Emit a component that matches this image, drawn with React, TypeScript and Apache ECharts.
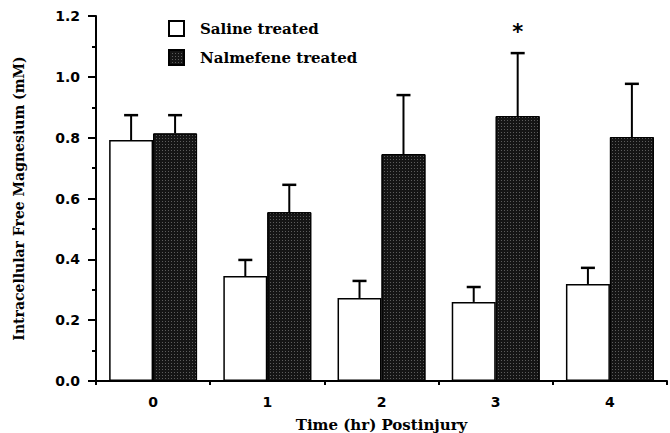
import React, { useEffect, useRef } from "react";
import * as echarts from "echarts";

const categories = ["0", "1", "2", "3", "4"];
const salineMean = [0.792, 0.345, 0.273, 0.26, 0.319];
const salineSem = [0.082, 0.053, 0.056, 0.049, 0.053];
const nalmefeneMean = [0.814, 0.555, 0.746, 0.871, 0.802];
const nalmefeneSem = [0.06, 0.09, 0.194, 0.207, 0.175];
const significant = [false, false, false, true, false];
const yTicks = [0, 0.2, 0.4, 0.6, 0.8, 1.0, 1.2];

const BAR_FRAC = 0.385;

export default function App() {
  const ref = useRef<HTMLDivElement>(null);
  useEffect(() => {
    document.body.style.margin = "0";
    const chart = echarts.init(ref.current!, null, { renderer: "svg" });
    const errSeries = (name: string, mean: number[], sem: number[], sign: number, stars?: boolean[]) => ({
      type: "custom",
      name: name + " err",
      z: 5,
      silent: true,
      data: mean.map((m, i) => [i, m, sem[i], stars && stars[i] ? 1 : 0]),
      encode: { x: 0, y: 1 },
      renderItem: (params: any, api: any) => {
        const i = api.value(0);
        const m = api.value(1);
        const e = api.value(2);
        const star = api.value(3);
        const base = api.coord([i, m]);
        const top = api.coord([i, m + e]);
        const band = api.size([1, 0])[0];
        const x = base[0] + sign * band * BAR_FRAC / 2;
        const half = 7;
        const children: any[] = [
          { type: "line", shape: { x1: x, y1: base[1], x2: x, y2: top[1] }, style: { stroke: "#000", lineWidth: 2 } },
          { type: "line", shape: { x1: x - half, y1: top[1], x2: x + half, y2: top[1] }, style: { stroke: "#000", lineWidth: 2.5 } },
        ];
        if (star) {
          children.push({
            type: "text",
            x: x,
            y: top[1] - 21,
            style: { text: "*", fill: "#000", font: "bold 21px 'DejaVu Sans'", align: "center", verticalAlign: "middle" },
          });
        }
        return { type: "group", children };
      },
    });
    chart.setOption({
      animation: false,
      backgroundColor: "#fff",
      grid: { left: 96, right: 3, top: 16, bottom: 52, containLabel: false, outerBoundsMode: "none" },
      legend: {
        data: ["Saline treated", "Nalmefene treated"],
        orient: "vertical",
        left: 163,
        top: 15,
        itemWidth: 15,
        itemHeight: 15,
        itemGap: 12,
        icon: "rect",
        textStyle: { fontFamily: "'DejaVu Serif'", fontWeight: "bold", fontSize: 15, color: "#000", padding: [0, 0, 0, 11] },
      },
      xAxis: {
        type: "category",
        data: categories,
        axisLine: { lineStyle: { color: "#000", width: 2 } },
        axisTick: { show: true, length: 4, lineStyle: { color: "#000", width: 2 } },
        axisLabel: { fontFamily: "'DejaVu Sans'", fontWeight: "bold", fontSize: 14, color: "#000", margin: 14 },
        name: "Time (hr) Postinjury",
        nameLocation: "middle",
        nameGap: 36,
        nameTextStyle: { fontFamily: "'DejaVu Serif'", fontWeight: "bold", fontSize: 15, color: "#000" },
      },
      yAxis: {
        type: "value",
        min: 0,
        max: 1.2,
        interval: 0.2,
        splitLine: { show: false },
        axisLine: { show: true, lineStyle: { color: "#000", width: 2 } },
        axisTick: { show: true, length: 8, lineStyle: { color: "#000", width: 2 } },
        minorTick: { show: true, splitNumber: 2, length: 4, lineStyle: { color: "#000", width: 2 } },
        axisLabel: {
          fontFamily: "'DejaVu Sans'",
          fontWeight: "bold",
          fontSize: 14,
          color: "#000",
          margin: 16,
          formatter: (v: number) => {
            const t = yTicks.find((k) => Math.abs(k - v) < 1e-6);
            return (t ?? v).toFixed(1);
          },
        },
        name: "Intracellular Free Magnesium (mM)",
        nameLocation: "middle",
        nameGap: 70,
        nameTextStyle: { fontFamily: "'DejaVu Serif'", fontWeight: "bold", fontSize: 14, color: "#000" },
      },
      series: [
        {
          name: "Saline treated",
          type: "bar",
          data: salineMean,
          barWidth: BAR_FRAC * 100 + "%",
          barGap: "0%",
          itemStyle: { color: "#fff", borderColor: "#000", borderWidth: 1.5 },
        },
        {
          name: "Nalmefene treated",
          type: "bar",
          data: nalmefeneMean,
          barWidth: BAR_FRAC * 100 + "%",
          barGap: "0%",
          itemStyle: {
            color: "#151515",
            borderColor: "#000",
            borderWidth: 1,
            decal: {
              symbol: "rect",
              symbolSize: 1,
              color: "rgba(150,150,150,0.55)",
              dashArrayX: [1, 2],
              dashArrayY: [1, 2],
              rotation: 0,
            },
          },
        },
        errSeries("Saline treated", salineMean, salineSem, -1),
        errSeries("Nalmefene treated", nalmefeneMean, nalmefeneSem, 1, significant),
      ],
    });
    return () => chart.dispose();
  }, []);
  return <div ref={ref} style={{ width: 670, height: 433 }} />;
}
